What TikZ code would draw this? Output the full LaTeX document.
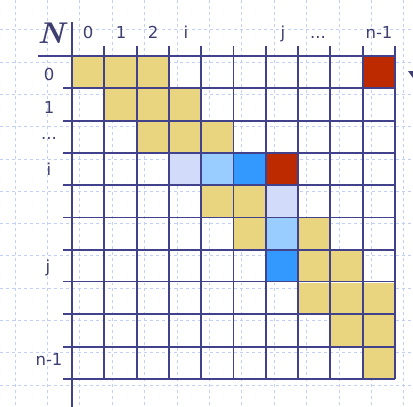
\documentclass[tikz,border=0pt]{standalone}
\usepackage{fontspec}
\newfontfamily\labfont{DejaVu Sans}
\definecolor{gridc}{RGB}{66,66,140}
\definecolor{txt}{RGB}{62,62,112}
\definecolor{bgd}{RGB}{195,208,246}
\definecolor{yel}{RGB}{233,213,128}
\definecolor{redc}{RGB}{190,42,0}
\definecolor{lav}{RGB}{210,220,250}
\definecolor{lblue}{RGB}{153,204,255}
\definecolor{dblue}{RGB}{51,153,255}
\newcommand{\mycell}[3]{\fill[#3] ({72+32.3*#1},{56+32.3*#2}) rectangle ++(32.3,32.3);}
\begin{document}
\begin{tikzpicture}[x=1pt,y=-1pt,
  bgline/.style={bgd,line width=1pt,dash pattern=on 3pt off 3pt},
  gline/.style={gridc,line width=1.9pt},
  lab/.style={text=txt,font=\labfont\fontsize{16.5}{16.5}\selectfont,inner sep=0pt,anchor=base}]
\useasboundingbox (0,0) rectangle (413,407);
\fill[white] (0,0) rectangle (413,407);
% background graph paper
\foreach \k in {0,...,12} \draw[bgline] ({15+32.4*\k},0) -- ++(0,407);
\foreach \k in {1,...,12} \draw[bgline] (0,{-2.5+32.3*\k}) -- ++(413,0);
% coloured cells
\foreach \c/\r in {0/0,1/0,2/0,1/1,2/1,3/1,2/2,3/2,4/2,4/4,5/4,5/5,7/5,7/6,8/6,7/7,8/7,9/7,8/8,9/8,9/9}
  {\mycell{\c}{\r}{yel}}
\mycell{9}{0}{redc}
\mycell{6}{3}{redc}
\mycell{3}{3}{lav}
\mycell{6}{4}{lav}
\mycell{4}{3}{lblue}
\mycell{6}{5}{lblue}
\mycell{5}{3}{dblue}
\mycell{6}{6}{dblue}
% grid lines
\draw[gline] (38,56) -- (395,56);
\foreach \k in {1,...,6,8,9,10} \draw[gline] (63,{56+32.3*\k}) -- (395,{56+32.3*\k});
\draw[white,line width=1.2pt] (63,282) -- (397,282);
\draw[gridc,line width=0.6pt] (63,280.8) -- (395,280.8);
\draw[gline] (72,22) -- (72,407);
\foreach \k in {1,...,10} \draw[gline] ({72+32.3*\k},46) -- ({72+32.3*\k},379);
% labels
\node[text=txt,inner sep=0pt,anchor=base] (N) at (51,43) {\fontsize{30}{30}\selectfont\bfseries\itshape N};
\node[lab] (c0) at (88,38.5) {0};
\node[lab] (c1) at (121,38.5) {1};
\node[lab] (c2) at (153,38.5) {2};
\node[lab] (ci) at (186,38.5) {i};
\node[lab] (cj) at (283,38.5) {j};
\node[lab] (cd) at (318,38.5) {...};
\node[lab] (cn) at (379,38.5) {n-1};
\node[lab] (r0) at (49,80) {0};
\node[lab] (r1) at (49,113) {1};
\node[lab] (rd) at (49,139) {...};
\node[lab] (ri) at (49,175) {i};
\node[lab] (rj) at (48,272) {j};
\node[lab] (rn) at (49,365) {n-1};
\fill[txt] (408,71) -- (418,71) -- (413,78) -- cycle;
\end{tikzpicture}
\end{document}
